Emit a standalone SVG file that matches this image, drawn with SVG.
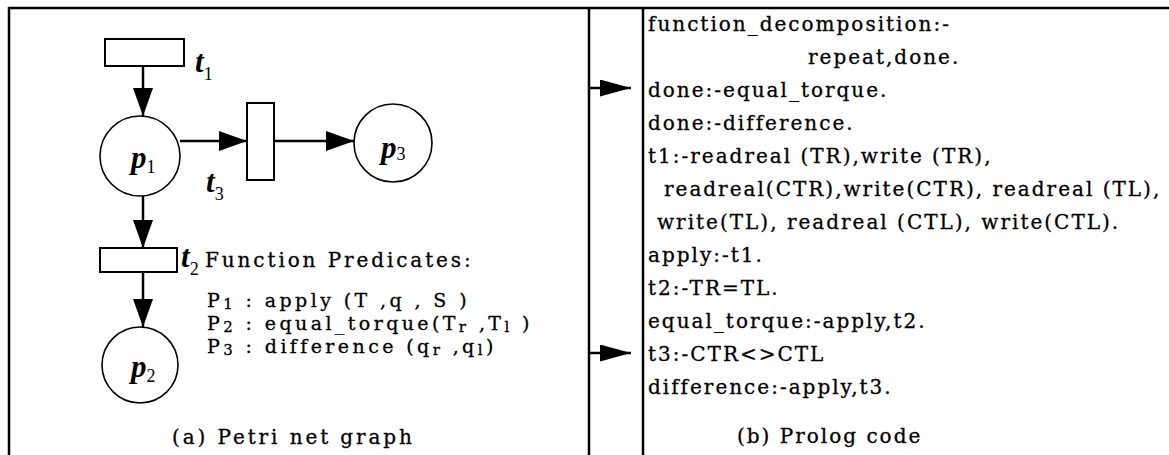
<svg xmlns="http://www.w3.org/2000/svg" width="1169" height="455" viewBox="0 0 1169 455">
<style>
.frame{stroke:#000;stroke-width:2.5;fill:none}
.trans{fill:#fff;stroke:#000;stroke-width:2}
.place{fill:#fff;stroke:#000;stroke-width:1.6}
.edge{stroke:#000;stroke-width:2.5;fill:none}
.lab{font-family:"Liberation Serif",serif;font-style:italic;font-weight:bold;font-size:31px;fill:#000}
.sub{font-family:"Liberation Serif",serif;font-style:normal;font-weight:normal;font-size:18px}
.code{font-family:"DejaVu Serif",serif;font-size:20px;letter-spacing:2px;fill:#000;stroke:#000;stroke-width:0.3}
.pred{font-family:"DejaVu Serif",serif;font-size:20px;letter-spacing:2.9px;fill:#000;stroke:#000;stroke-width:0.3}
.pl{font-size:19px;letter-spacing:3.4px}
.ps{font-size:15px}
</style>
<defs>
<marker id="ah" markerUnits="userSpaceOnUse" markerWidth="28" markerHeight="20" refX="28" refY="10" orient="auto">
<path d="M0,0 L28,10 L0,20 z" fill="#000"/>
</marker>
<marker id="ah2" markerUnits="userSpaceOnUse" markerWidth="31" markerHeight="17" refX="31" refY="8.5" orient="auto">
<path d="M0,0 L31,8.5 L0,17 z" fill="#000"/>
</marker>
</defs>
<rect width="1169" height="455" fill="#fff"/>
<g id="frame">
<line class="frame" x1="9" y1="8" x2="1169" y2="8" stroke-width="3"/>
<line class="frame" x1="9" y1="7" x2="9" y2="455"/>
<line class="frame" x1="589" y1="7" x2="589" y2="455" stroke-width="2"/>
<line class="frame" x1="643" y1="7" x2="643" y2="455" stroke-width="2"/>
</g>
<g id="connectors">
<line class="edge" x1="143" y1="66" x2="143" y2="116" marker-end="url(#ah)"/>
<line class="edge" x1="180" y1="141" x2="247" y2="141" marker-end="url(#ah)"/>
<line class="edge" x1="274" y1="141" x2="354" y2="141" marker-end="url(#ah)"/>
<line class="edge" x1="143" y1="196" x2="143" y2="248" marker-end="url(#ah)"/>
<line class="edge" x1="143" y1="272" x2="143" y2="327" marker-end="url(#ah)"/>
<line class="edge" x1="590" y1="88" x2="631" y2="88" marker-end="url(#ah2)"/>
<line class="edge" x1="590" y1="353" x2="631" y2="353" marker-end="url(#ah2)"/>
</g>
<g id="t1">
<rect class="trans" x="105" y="39" width="79" height="27"/>
<text class="lab" x="195" y="72">t<tspan class="sub" dy="8">1</tspan></text>
</g>
<g id="p1">
<circle class="place" cx="140" cy="156" r="40"/>
<text class="lab" x="131" y="168">p<tspan class="sub" dy="5">1</tspan></text>
</g>
<g id="t3">
<rect class="trans" x="247" y="103" width="27" height="77"/>
<text class="lab" x="206" y="192">t<tspan class="sub" dy="8">3</tspan></text>
</g>
<g id="p3">
<circle class="place" cx="393" cy="143" r="39"/>
<text class="lab" x="381" y="158">p<tspan class="sub" dy="2">3</tspan></text>
</g>
<g id="t2">
<rect class="trans" x="100" y="248" width="77" height="24"/>
<text class="lab" x="181" y="267">t<tspan class="sub" dy="8">2</tspan></text>
</g>
<g id="p2">
<circle class="place" cx="140" cy="365" r="38"/>
<text class="lab" x="131" y="377">p<tspan class="sub" dy="5">2</tspan></text>
</g>
<g id="predicates">
<text class="pred" x="205" y="267">Function Predicates:</text>
<text class="pred pl" x="207" y="307">P<tspan class="ps" dy="2">1</tspan><tspan dy="-2"> : apply (T ,q , S )</tspan></text>
<text class="pred pl" x="207" y="330">P<tspan class="ps" dy="2">2</tspan><tspan dy="-2"> : equal_torque(T</tspan><tspan class="ps" dy="2">r</tspan><tspan dy="-2"> ,T</tspan><tspan class="ps" dy="2">l</tspan><tspan dy="-2"> )</tspan></text>
<text class="pred pl" x="207" y="353">P<tspan class="ps" dy="2">3</tspan><tspan dy="-2"> :  difference (q</tspan><tspan class="ps" dy="2">r</tspan><tspan dy="-2"> ,q</tspan><tspan class="ps" dy="2">l</tspan><tspan dy="-2">)</tspan></text>
<text class="pred" x="172" y="444">(a) Petri net graph</text>
</g>
<g id="prolog-code">
<text class="code" x="648" y="31">function_decomposition:-</text>
<text class="code" x="808" y="64">repeat,done.</text>
<text class="code" x="648" y="97">done:-equal_torque.</text>
<text class="code" x="648" y="130">done:-difference.</text>
<text class="code" x="648" y="163">t1:-readreal (TR),write (TR),</text>
<text class="code" x="664" y="196">readreal(CTR),write(CTR), readreal (TL),</text>
<text class="code" x="657" y="229">write(TL), readreal (CTL), write(CTL).</text>
<text class="code" x="648" y="262">apply:-t1.</text>
<text class="code" x="648" y="295">t2:-TR=TL.</text>
<text class="code" x="648" y="328">equal_torque:-apply,t2.</text>
<text class="code" x="648" y="361">t3:-CTR&lt;&gt;CTL</text>
<text class="code" x="648" y="394">difference:-apply,t3.</text>
<text class="code" x="737" y="443">(b) Prolog code</text>
</g>
</svg>
